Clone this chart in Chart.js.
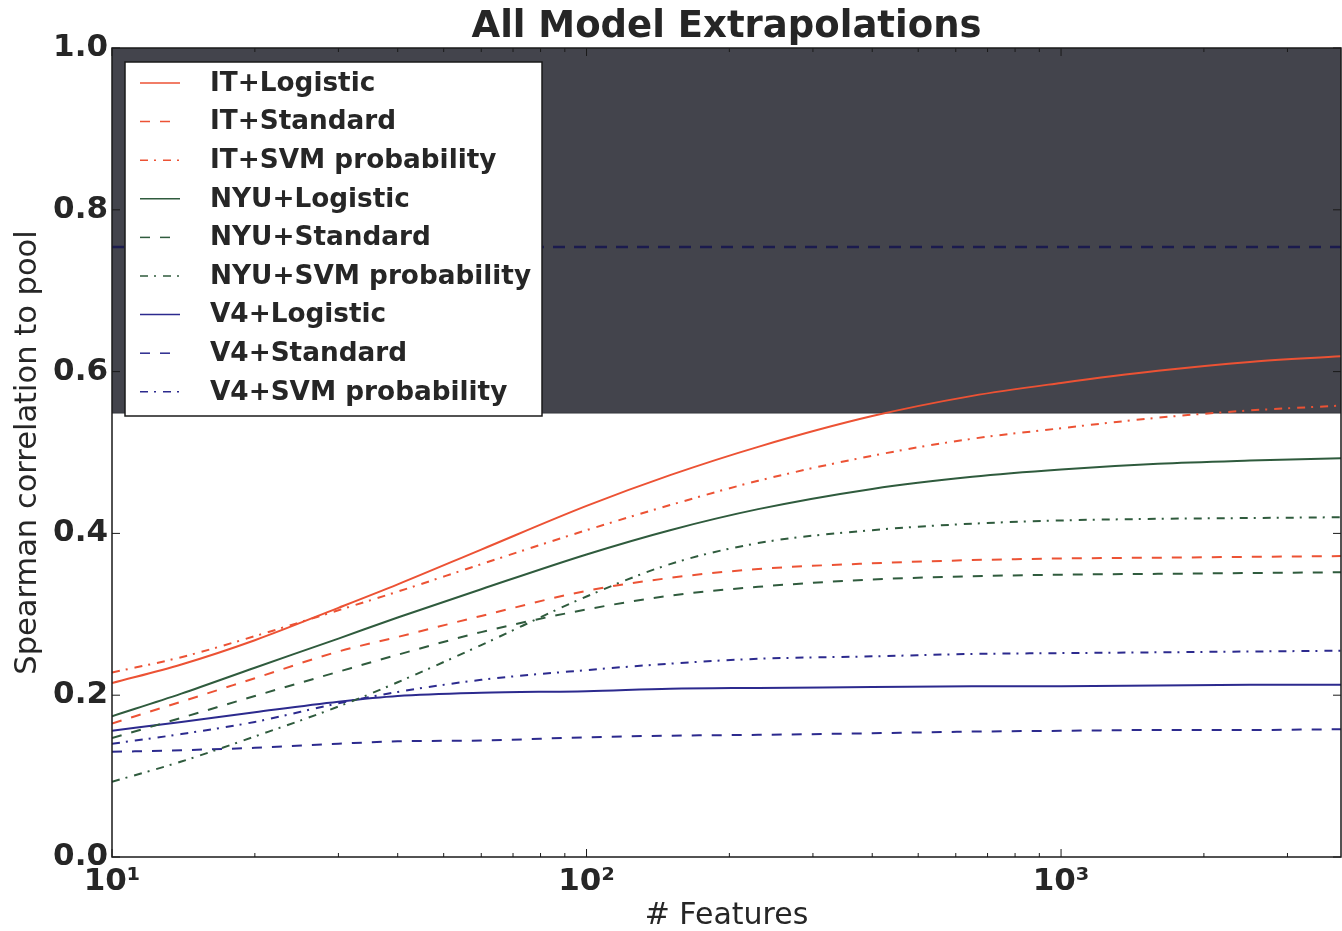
<!DOCTYPE html>
<html><head><meta charset="utf-8">
<script src="https://cdn.jsdelivr.net/npm/chart.js@4.4.1/dist/chart.umd.min.js"></script>
<style>html,body{margin:0;padding:0;background:#fff;overflow:hidden}</style>
</head><body>
<canvas id="c" width="1342" height="931"></canvas>
<script>
// ---- data ----
const featureCounts = [10, 14, 20, 30, 40, 60, 100, 150, 230, 400, 650, 1000, 1600, 2500, 3890];
const itLogistic  = [0.215, 0.238, 0.268, 0.308, 0.337, 0.380, 0.434, 0.472, 0.507, 0.545, 0.570, 0.586, 0.601, 0.612, 0.619];
const itStandard  = [0.165, 0.192, 0.221, 0.254, 0.272, 0.298, 0.329, 0.345, 0.356, 0.363, 0.367, 0.369, 0.370, 0.371, 0.372];
const itSvm       = [0.228, 0.247, 0.273, 0.305, 0.328, 0.362, 0.404, 0.435, 0.465, 0.496, 0.517, 0.530, 0.543, 0.552, 0.558];
const nyuLogistic = [0.174, 0.202, 0.234, 0.270, 0.296, 0.331, 0.374, 0.404, 0.430, 0.455, 0.470, 0.479, 0.486, 0.490, 0.493];
const nyuStandard = [0.147, 0.172, 0.199, 0.229, 0.250, 0.278, 0.306, 0.323, 0.334, 0.343, 0.347, 0.349, 0.350, 0.351, 0.352];
const nyuSvm      = [0.093, 0.118, 0.149, 0.186, 0.216, 0.262, 0.322, 0.362, 0.388, 0.404, 0.412, 0.416, 0.418, 0.419, 0.420];
const v4Logistic  = [0.156, 0.167, 0.179, 0.192, 0.199, 0.203, 0.205, 0.208, 0.209, 0.210, 0.211, 0.211, 0.212, 0.213, 0.213];
const v4Standard  = [0.130, 0.132, 0.135, 0.140, 0.143, 0.144, 0.148, 0.150, 0.151, 0.153, 0.155, 0.156, 0.157, 0.157, 0.158];
const v4Svm       = [0.140, 0.152, 0.167, 0.190, 0.204, 0.219, 0.231, 0.239, 0.245, 0.248, 0.251, 0.252, 0.253, 0.254, 0.255];
const bandTop = 1.0;
const bandBottom = 0.549;
const poolCeiling = 0.754;
const xRange = [10, 3890];
const xTickValues = [10, 100, 1000];
const xTickLabels = ['10\u00B9', '10\u00B2', '10\u00B3'];
const yTickValues = [0, 0.2, 0.4, 0.6, 0.8, 1.0];

// ---- styles ----
const RED = '#ec5234', GREEN = '#2f5b3d', BLUE = '#2c2a8e';
const DASH = [10, 10], DASHDOT = [8, 6, 2, 7];
const FONT = '"DejaVu Sans", Verdana, sans-serif';
const TXT = '#262626';

const pts = arr => arr.map((v, i) => ({x: featureCounts[i], y: v}));
const flat = v => xRange.map(x => ({x, y: v}));

function series(label, arr, color, dash) {
  return {label, data: pts(arr), borderColor: color, backgroundColor: color,
    borderWidth: 2, borderDash: dash, pointRadius: 0, fill: false,
    cubicInterpolationMode: 'monotone', order: 1};
}

const datasets = [
  series('IT+Logistic', itLogistic, RED, []),
  series('IT+Standard', itStandard, RED, DASH),
  series('IT+SVM probability', itSvm, RED, DASHDOT),
  series('NYU+Logistic', nyuLogistic, GREEN, []),
  series('NYU+Standard', nyuStandard, GREEN, DASH),
  series('NYU+SVM probability', nyuSvm, GREEN, DASHDOT),
  series('V4+Logistic', v4Logistic, BLUE, []),
  series('V4+Standard', v4Standard, BLUE, DASH),
  series('V4+SVM probability', v4Svm, BLUE, DASHDOT),
  {label: '_ceiling', data: flat(poolCeiling), borderColor: '#1b1b4e', borderWidth: 2.5,
   borderDash: [12, 9], pointRadius: 0, fill: false, order: 5},
  {label: '_bandTop', data: flat(bandTop), borderColor: 'rgba(0,0,0,0)', borderWidth: 0,
   backgroundColor: '#43444c', pointRadius: 0, fill: '+1', order: 10},
  {label: '_bandBottom', data: flat(bandBottom), borderColor: '#2b2c33', borderWidth: 1.5,
   pointRadius: 0, fill: false, order: 10}
];

const decor = {
  id: 'decor',
  afterDatasetsDraw(chart) {
    const {ctx, chartArea: a} = chart;
    // legend box
    const bx = a.left + 13, by = a.top + 14, bw = 417, bh = 354;
    ctx.save();
    ctx.fillStyle = '#fff';
    ctx.fillRect(bx, by, bw, bh);
    ctx.strokeStyle = '#1a1a1a'; ctx.lineWidth = 1.5;
    ctx.strokeRect(bx, by, bw, bh);
    const items = chart.data.datasets.filter(d => !d.label.startsWith('_'));
    ctx.font = 'bold 26.3px ' + FONT;
    ctx.textBaseline = 'middle'; ctx.textAlign = 'left';
    items.forEach((d, i) => {
      const y = by + 21 + i * 38.6;
      ctx.beginPath();
      ctx.setLineDash(d.borderDash || []);
      ctx.strokeStyle = d.borderColor; ctx.lineWidth = 1.5;
      ctx.moveTo(bx + 15, y); ctx.lineTo(bx + 55, y); ctx.stroke();
      ctx.setLineDash([]);
      ctx.fillStyle = TXT;
      ctx.fillText(d.label, bx + 85, y + 1);
    });
    ctx.restore();
  },
  afterDraw(chart) {
    const {ctx, chartArea: a, scales: {x, y}} = chart;
    ctx.save();
    ctx.strokeStyle = '#1a1a1a'; ctx.lineWidth = 1.5;
    ctx.strokeRect(a.left, a.top, a.right - a.left, a.bottom - a.top);
    ctx.lineWidth = 1;
    const tick = (x1, y1, x2, y2) => { ctx.beginPath(); ctx.moveTo(x1, y1); ctx.lineTo(x2, y2); ctx.stroke(); };
    // x ticks (major + minor), inward on bottom and top
    xTickValues.forEach(d => {
      for (let m = 1; m <= 9; m++) {
        const v = d * m;
        if (v < xRange[0] || v > xRange[1]) continue;
        const px = x.getPixelForValue(v);
        const len = m === 1 ? 8 : 4;
        tick(px, a.bottom, px, a.bottom - len);
        tick(px, a.top, px, a.top + len);
      }
    });
    yTickValues.forEach(v => {
      const py = y.getPixelForValue(v);
      tick(a.left, py, a.left + 8, py);
      tick(a.right, py, a.right - 8, py);
    });
    // title centred over the plot area
    ctx.fillStyle = TXT;
    ctx.font = 'bold 37px ' + FONT;
    ctx.textAlign = 'center'; ctx.textBaseline = 'middle';
    ctx.fillText('All Model Extrapolations', (a.left + a.right) / 2, 27);
    ctx.restore();
  }
};

new Chart(document.getElementById('c'), {
  type: 'line',
  data: {datasets},
  options: {
    responsive: false, animation: false, devicePixelRatio: 1,
    layout: {padding: {top: 48, right: 1, left: 0, bottom: 0}},
    plugins: {legend: {display: false}, tooltip: {enabled: false}, title: {display: false}},
    scales: {
      x: {
        type: 'logarithmic', min: xRange[0], max: xRange[1],
        grid: {display: false, drawTicks: false}, border: {display: false},
        afterBuildTicks: s => { s.ticks = xTickValues.map(v => ({value: v})); },
        afterFit: s => { s.height = 74; },
        ticks: {autoSkip: false, maxRotation: 0, padding: 6, color: TXT,
          font: {family: FONT, size: 31, weight: 'bold'},
          callback: v => { const i = xTickValues.indexOf(v); return i >= 0 ? xTickLabels[i] : ''; }},
        title: {display: true, text: '# Features', color: TXT, padding: {top: 0, bottom: 0},
          font: {family: FONT, size: 30, lineHeight: 1.0}}
      },
      y: {
        min: 0, max: 1,
        grid: {display: false, drawTicks: false}, border: {display: false},
        afterBuildTicks: s => { s.ticks = yTickValues.map(v => ({value: v})); },
        afterFit: s => { s.width = 112; },
        ticks: {padding: 4, color: TXT, font: {family: FONT, size: 31, weight: 'bold'},
          callback: v => Number(v).toFixed(1)},
        title: {display: true, text: 'Spearman correlation to pool', color: TXT,
          padding: {top: 10, bottom: 0}, font: {family: FONT, size: 30.5}}
      }
    }
  },
  plugins: [decor]
});
</script>
</body></html>
